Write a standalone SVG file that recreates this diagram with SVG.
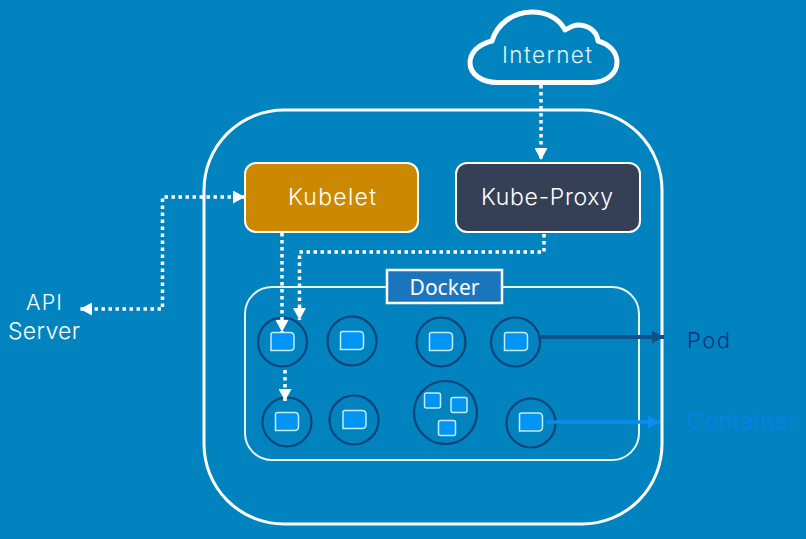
<svg xmlns="http://www.w3.org/2000/svg" width="806" height="539" viewBox="0 0 806 539">
<style>
.t{font-family:Inter,"Open Sans","Liberation Sans",sans-serif;font-weight:300;fill:#fff}
.p{fill:none;stroke:#12427a;stroke-width:2.2}
.c{fill:#0094f5;stroke:#c5ecf5;stroke-width:1.5}
.d{fill:none;stroke:#fff;stroke-width:3.500;stroke-dasharray:3.500 3.500}
</style>
<defs>
<marker id="w" markerUnits="userSpaceOnUse" markerWidth="12" markerHeight="13" refX="12" refY="6.500" orient="auto-start-reverse"><path d="M0 0L12 6.500L0 13Z" fill="#fff"/></marker>
<marker id="n" markerUnits="userSpaceOnUse" markerWidth="12" markerHeight="13" refX="12" refY="6.500" orient="auto"><path d="M0 0L12 6.500L0 13Z" fill="#12508a"/></marker>
<marker id="b" markerUnits="userSpaceOnUse" markerWidth="12" markerHeight="13" refX="12" refY="6.500" orient="auto"><path d="M0 0L12 6.500L0 13Z" fill="#0a8cf0"/></marker>
<path id="box" d="M0 2Q0 0 2 0H19Q23 0 23 4V14Q23 18 19 18H0Z"/>
</defs>
<rect width="806" height="539" fill="#0083bf"/>
<g id="node-cluster"><rect x="204" y="110" width="458" height="414" rx="80" fill="none" stroke="#fff" stroke-width="3"/></g>
<g id="node-internet">
<path d="M497 82.500H591C607 82.500 617 73 617 62C617 52 609 44 598 41C597 31 588 25 578 25C573 25 569 28 565 30C559 18 546 12 532 12C513 12 497 24 492 41C479 44 470 52 470 63C470 74 482 82.500 497 82.500Z" fill="none" stroke="#fff" stroke-width="5" stroke-linejoin="round"/>
<text class="t" x="502" y="63" font-size="22.500" textLength="90" style="fill:#e4f4fa">Internet</text>
</g>
<g id="node-kubelet"><rect x="245" y="163" width="173" height="69" rx="11" fill="#cc8800" stroke="#fff" stroke-width="2"/><text class="t" x="288" y="205" font-size="23" textLength="88">Kubelet</text></g>
<g id="node-kube-proxy"><rect x="456" y="163" width="184" height="69" rx="11" fill="#353f55" stroke="#fff" stroke-width="2"/><text class="t" x="481" y="205" font-size="23" textLength="132">Kube-Proxy</text></g>
<g id="node-docker">
<rect x="245" y="287" width="394" height="173" rx="27" fill="none" stroke="#e8f6fb" stroke-width="2"/>
<rect x="387" y="270" width="115" height="33" fill="#1b75bc" stroke="#fff" stroke-width="2.500"/>
<text x="444.500" y="295" font-size="21" fill="#fff" text-anchor="middle" style="font-family:'Noto Sans',sans-serif">Docker</text>
</g>
<g id="pod-1"><circle class="p" cx="282.500" cy="342" r="24.500"/><use href="#box" class="c" x="271" y="332.500"/></g>
<g id="pod-2"><circle class="p" cx="352" cy="341" r="24.500"/><use href="#box" class="c" x="340.500" y="331.500"/></g>
<g id="pod-3"><circle class="p" cx="441" cy="342" r="24.500"/><use href="#box" class="c" x="429.500" y="332.500"/></g>
<g id="pod-4"><circle class="p" cx="515.500" cy="342" r="24.500"/><use href="#box" class="c" x="504.500" y="332.500"/></g>
<g id="pod-5"><circle class="p" cx="287" cy="422" r="24.500"/><use href="#box" class="c" x="275.500" y="412.500"/></g>
<g id="pod-6"><circle class="p" cx="354" cy="420" r="24.500"/><use href="#box" class="c" x="343" y="410.500"/></g>
<g id="pod-7"><circle class="p" cx="445.500" cy="412.500" r="31.500"/>
<rect class="c" x="424.500" y="393" width="16" height="15" rx="2"/><rect class="c" x="451" y="397.500" width="16" height="15" rx="2"/><rect class="c" x="438.500" y="420.500" width="17" height="15" rx="2"/></g>
<g id="pod-8"><circle class="p" cx="531" cy="423" r="24.500"/><use href="#box" class="c" x="519.500" y="413"/></g>
<g id="connectors">
<path class="d" d="M541 85V160" marker-end="url(#w)"/>
<path class="d" d="M245 197H162.500V309H80" marker-start="url(#w)" marker-end="url(#w)"/>
<path class="d" d="M282 233V332" marker-end="url(#w)"/>
<path class="d" d="M544 234V252H299.500V320" marker-end="url(#w)"/>
<path class="d" d="M285 370V401" marker-end="url(#w)"/>
<path d="M541 337H664" fill="none" stroke="#12508a" stroke-width="4" marker-end="url(#n)"/>
<path d="M546 422H660" fill="none" stroke="#0a8cf0" stroke-width="3.500" marker-end="url(#b)"/>
</g>
<g id="labels">
<text class="t" x="26" y="310" font-size="21.500" textLength="36">API</text>
<text class="t" x="8" y="339" font-size="23" textLength="72">Server</text>
<text class="t" x="687" y="348" font-size="22" textLength="43" style="fill:#0f2f7a">Pod</text>
<text class="t" x="687" y="429" font-size="22.500" textLength="110" style="fill:#0a80ee">Container</text>
</g>
</svg>
